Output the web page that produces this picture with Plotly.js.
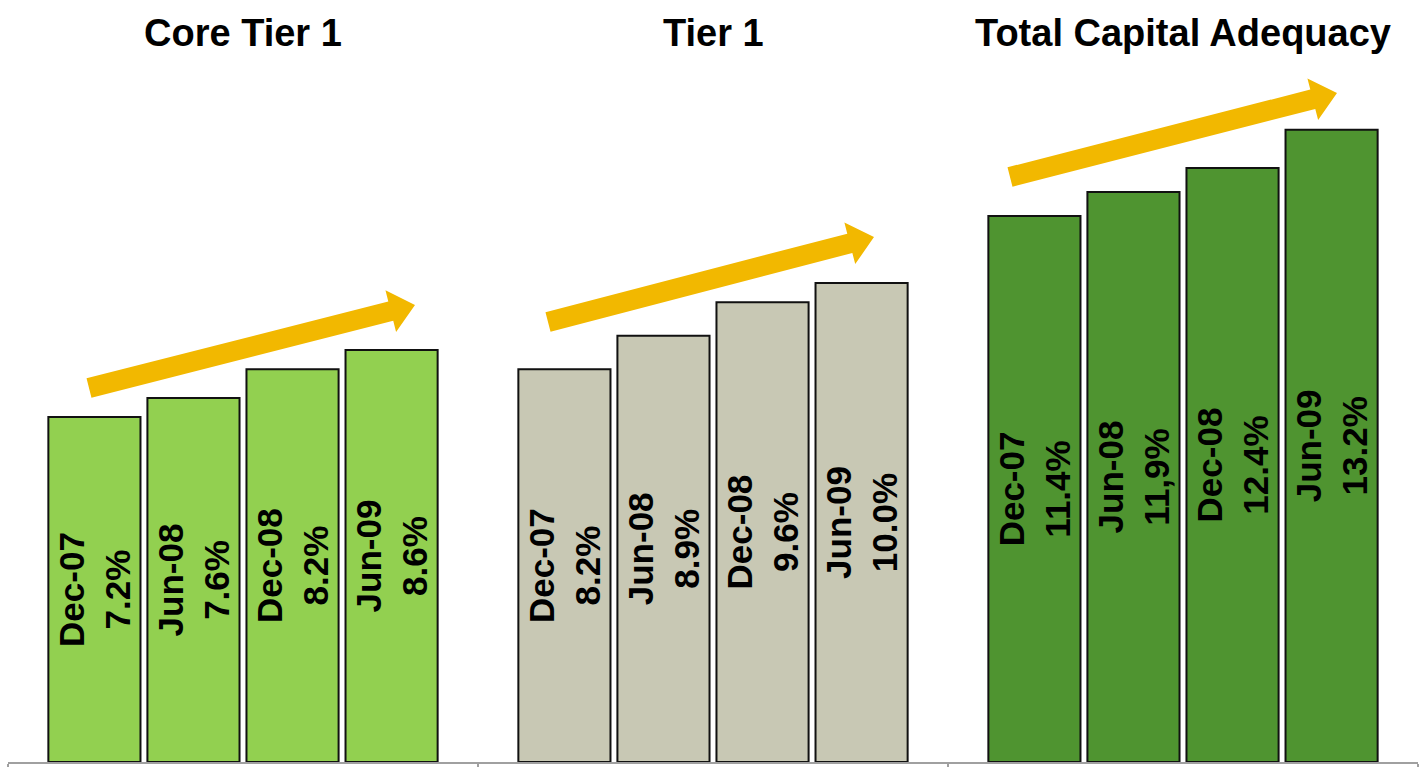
<!DOCTYPE html>
<html>
<head>
<meta charset="utf-8">
<script src="https://cdn.plot.ly/plotly-3.0.1.min.js"></script>
<style>html,body{margin:0;padding:0;background:#fff;}#chart{width:1421px;height:767px;}</style>
</head>
<body>
<div id="chart"></div>
<script>
// ---- data ----
var categories = ["Core Tier 1", "Tier 1", "Total Capital Adequacy"];
var periods = ["Dec-07", "Jun-08", "Dec-08", "Jun-09"];
var valuesDec07 = [7.2, 8.2, 11.4];
var valuesJun08 = [7.6, 8.9, 11.9];
var valuesDec08 = [8.2, 9.6, 12.4];
var valuesJun09 = [8.6, 10.0, 13.2];
var labelsDec07 = ["7.2%", "8.2%", "11.4%"];
var labelsJun08 = ["7.6%", "8.9%", "11,9%"];
var labelsDec08 = ["8.2%", "9.6%", "12.4%"];
var labelsJun09 = ["8.6%", "10.0%", "13.2%"];
var categoryColors = ["#92D050", "#C8C8B4", "#4F9430"];

var seriesValues = [valuesDec07, valuesJun08, valuesDec08, valuesJun09];
var seriesLabels = [labelsDec07, labelsJun08, labelsDec08, labelsJun09];

var W = 1421, H = 767;
var M = {l: 8, r: 3, t: 80, b: 5};
var plotW = W - M.l - M.r, plotH = H - M.t - M.b;

var font = "'Liberation Sans'";

var traces = periods.map(function (p, i) {
  return {
    type: "bar",
    name: p,
    x: categories,
    y: seriesValues[i],
    text: seriesLabels[i].map(function (l) { return "<b>" + p + "<br>" + l + "</b>"; }),
    textposition: "inside",
    insidetextanchor: "middle",
    textangle: -90,
    constraintext: "none",
    textfont: {family: font, size: 35, color: "#000"},
    marker: {color: categoryColors, line: {color: "#111", width: 2}},
    hoverinfo: "skip",
    cliponaxis: false
  };
});

// arrow decorations, defined in pixel geometry (tail centre, tip)
function px2paper(x, y) {
  return [(x - M.l) / plotW, (H - M.b - y) / plotH];
}
function arrowPath(tx, ty, hx, hy) {
  var dx = hx - tx, dy = hy - ty, L = Math.sqrt(dx * dx + dy * dy);
  var ux = dx / L, uy = dy / L, nx = -uy, ny = ux;
  var sw = 10, hw = 21.5, hl = 25;
  var bx = hx - ux * hl, by = hy - uy * hl;
  var pts = [
    [tx + nx * sw, ty + ny * sw],
    [bx + nx * sw, by + ny * sw],
    [bx + nx * hw, by + ny * hw],
    [hx, hy],
    [bx - nx * hw, by - ny * hw],
    [bx - nx * sw, by - ny * sw],
    [tx - nx * sw, ty - ny * sw]
  ].map(function (p) { return px2paper(p[0], p[1]); });
  return "M" + pts.map(function (p) { return p[0].toFixed(5) + "," + p[1].toFixed(5); }).join(" L") + " Z";
}
var arrows = [
  [89, 388, 415, 305],
  [548, 322, 874, 237],
  [1010, 177, 1337, 93]
];
var shapes = arrows.map(function (a) {
  return {type: "path", xref: "paper", yref: "paper", path: arrowPath(a[0], a[1], a[2], a[3]),
          fillcolor: "#F2B800", line: {width: 0}, layer: "above"};
});

var annotations = categories.map(function (c) {
  return {x: c, xref: "x", y: (H - M.b - 33) / plotH, yref: "paper", yanchor: "middle",
          text: "<b>" + c + "</b>", showarrow: false,
          font: {family: font, size: 38, color: "#000"}};
});

var layout = {
  width: W, height: H,
  margin: M,
  paper_bgcolor: "#fff", plot_bgcolor: "#fff",
  barmode: "group",
  bargap: 0.157,
  bargroupgap: 0.07,
  showlegend: false,
  uniformtext: {mode: "show", minsize: 35},
  xaxis: {
    type: "category",
    showline: true, linecolor: "#A0A0A0", linewidth: 1.5,
    ticks: "outside", tickson: "boundaries", ticklen: 6, tickcolor: "#A0A0A0", tickwidth: 1.5,
    showticklabels: false, showgrid: false, zeroline: false, fixedrange: true
  },
  yaxis: {
    range: [0, plotH / 47.9],
    visible: false, showgrid: false, zeroline: false, fixedrange: true
  },
  shapes: shapes,
  annotations: annotations
};

Plotly.newPlot("chart", traces, layout, {displayModeBar: false, staticPlot: true});
</script>
</body>
</html>
